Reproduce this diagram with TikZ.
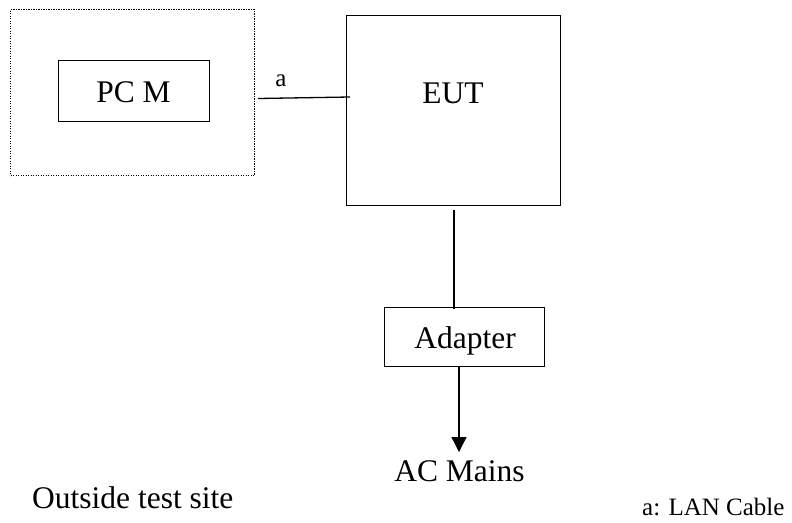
\documentclass[tikz,border=0pt]{standalone}
\usepackage{fontspec}
\setmainfont{Liberation Serif}
\usetikzlibrary{arrows.meta}
\begin{document}
\begin{tikzpicture}[x=1pt,y=-1pt,
  box/.style={draw,line width=1.3pt,inner sep=0pt,anchor=north west},
  big/.style={font=\fontsize{31.5}{34}\selectfont,inner sep=0pt},
  small/.style={font=\fontsize{25}{28}\selectfont,inner sep=0pt},
  wire/.style={line width=1.3pt}]
\useasboundingbox (0,0) rectangle (792,522);
% outside test site dotted frame
\node[draw,line width=1.2pt,dash pattern=on 1.2pt off 1.3pt,inner sep=0pt,anchor=north west,
      minimum width=244pt,minimum height=166pt] (site) at (10,9) {};
\node[box,minimum width=151pt,minimum height=61pt] (pcm) at (58,60) {};
\node[big,anchor=base] (pcmt) at (133.5,102) {PC M};
\node[box,minimum width=214pt,minimum height=190pt] (eut) at (346,15) {};
\node[big,anchor=base] (eutt) at (453,103) {EUT};
\node[box,minimum width=160pt,minimum height=59pt] (adp) at (384,307) {};
\node[big,anchor=base] (adpt) at (465,348) {Adapter};
\node[big,anchor=base] (ac) at (459.5,481) {AC Mains};
\node[big,anchor=base west] (out) at (32,508) {Outside test site};
\node[small,anchor=base west] (leg) at (642,515) {a: LAN Cable};
\node[small,anchor=base] (la) at (281,86) {a};
% connectors
\coordinate (aS) at (258,98.5);
\coordinate (aE) at (350,97);
\draw[wire] (aS) -- (aE);
\coordinate (vS) at (454,210);
\coordinate (vE) at (454,309);
\draw[wire] (vS) -- (vE);
\coordinate (arS) at (459,366);
\coordinate (arE) at (459,452);
\draw[wire,-{Triangle[width=15pt,length=15pt]}] (arS) -- (arE);
\end{tikzpicture}
\end{document}
